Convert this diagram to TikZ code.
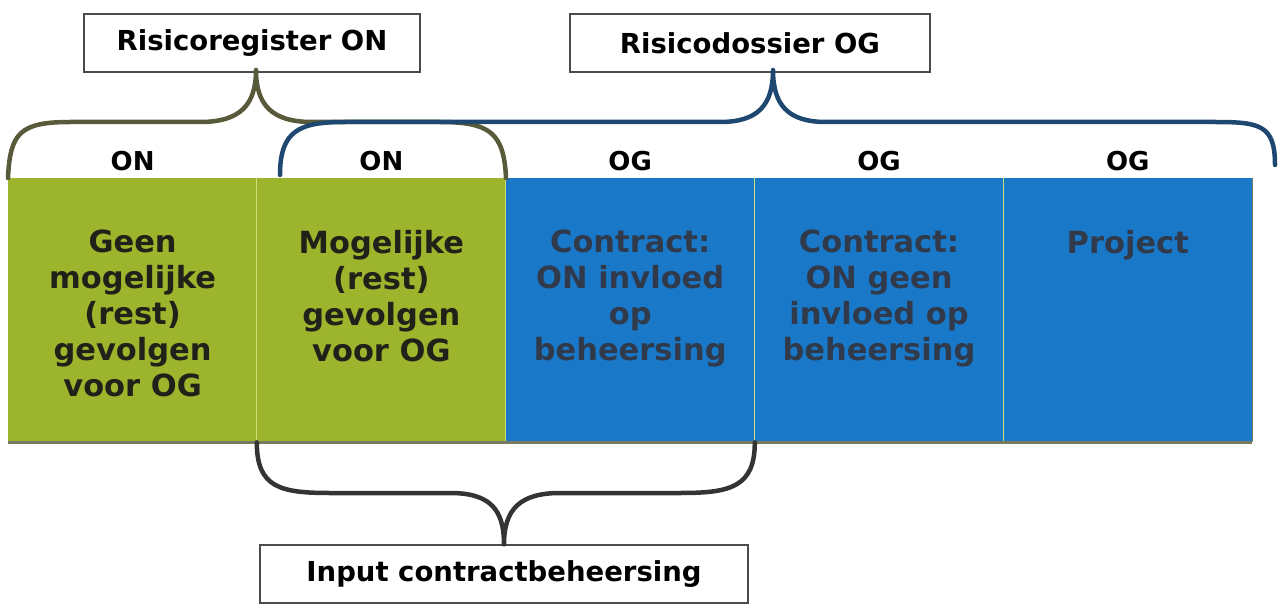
\documentclass[tikz,border=0pt]{standalone}
\usepackage{fontspec}
\setmainfont{DejaVu Sans}
\usepackage{xcolor}
\usepackage{tikz}
\usetikzlibrary{positioning,calc}
\definecolor{ongreen}{RGB}{157,180,45}
\definecolor{ogblue}{RGB}{26,120,200}
\definecolor{onbrace}{RGB}{88,90,58}
\definecolor{ogbrace}{RGB}{30,72,112}
\definecolor{inbrace}{RGB}{52,52,52}
\definecolor{sepline}{RGB}{205,222,120}
\definecolor{celltext}{RGB}{32,34,26}
\definecolor{bluetext}{RGB}{48,58,74}

\begin{document}
\begin{tikzpicture}[x=1pt, y=-1pt,
    cell/.style={anchor=north west, minimum width=248.8pt, minimum height=264pt, inner sep=0pt, draw=none},
    hdr/.style={font=\fontsize{26}{30}\selectfont\bfseries, text=black},
    celltxt/.style={anchor=north, inner sep=0pt, align=center, font=\fontsize{30.5}{36}\selectfont\bfseries},
    lblbox/.style={draw=black!70, line width=1.4pt, fill=white, minimum height=58pt, font=\fontsize{27.5}{30}\selectfont\bfseries},
    brace/.style={line width=4.5pt, line cap=round, line join=round}]
    \useasboundingbox (0,0) rectangle (1279,604);
    % Cells with their headers
    \foreach \i/\col/\hd in {1/ongreen/ON, 2/ongreen/ON, 3/ogblue/OG, 4/ogblue/OG, 5/ogblue/OG} {
        \node[cell, fill=\col] (c\i) at ({8+(\i-1)*248.8},178) {};
        \node[hdr, above=4pt of c\i.north] (h\i) {\hd};
    }
    \foreach \i in {2,3,4,5}
        \draw[sepline, line width=1.2pt] (c\i.north west) -- (c\i.south west);
    \draw[onbrace!80, line width=2.5pt] (c1.south west) -- (c5.south east);
    \draw[onbrace!80, line width=1.2pt] (c5.north east) -- (c5.south east);

    % Cell texts
    \node[celltxt, text=celltext, below=52pt of c1.north] (t1) {Geen\\mogelijke\\(rest)\\gevolgen\\voor OG};
    \node[celltxt, text=celltext, below=52pt of c2.north] (t2) {Mogelijke\\(rest)\\gevolgen\\voor OG};
    \node[celltxt, text=bluetext, below=52pt of c3.north] (t3) {Contract:\\ON invloed\\op\\beheersing};
    \node[celltxt, text=bluetext, below=52pt of c4.north] (t4) {Contract:\\ON geen\\invloed op\\beheersing};
    \node[celltxt, text=bluetext, below=52pt of c5.north] (t5) {Project};

    % Label boxes
    \node[lblbox, minimum width=336pt] (reg) at (252,43) {Risicoregister ON};
    \node[lblbox, minimum width=360pt] (dos) at (750,43) {Risicodossier OG};
    \node[lblbox, minimum width=488pt] (inp) at (504,574) {Input contractbeheersing};

    % Brace end points
    \coordinate (regtip) at (256,70);
    \coordinate (dostip) at (773,70);
    \coordinate (bl) at (280,175);
    \coordinate (br) at (1275,165);

    % Braces
    \draw[brace, onbrace] (c1.north west) .. controls +(2,-45) and +(-50,0) .. (70,122)
        -- (200,122) .. controls +(40,0) and +(0,35) .. (regtip)
        .. controls +(0,35) and +(-40,0) .. (312,122)
        -- (440,122) .. controls +(50,0) and +(-2,-45) .. (c2.north east);
    \draw[brace, ogbrace] (bl) .. controls +(0,-45) and +(-45,0) .. (345,122)
        -- (720,122) .. controls +(38,0) and +(0,35) .. (dostip)
        .. controls +(0,35) and +(-38,0) .. (826,122)
        -- (1215,122) .. controls +(45,0) and +(0,-40) .. (br);
    \draw[brace, inbrace] (c2.south west) .. controls +(0,45) and +(-50,0) .. (330,493)
        -- (450,493) .. controls +(40,0) and +(0,-35) .. (inp.north)
        .. controls +(0,-35) and +(-40,0) .. (560,493)
        -- (680,493) .. controls +(50,0) and +(0,45) .. (c3.south east);
\end{tikzpicture}
\end{document}
